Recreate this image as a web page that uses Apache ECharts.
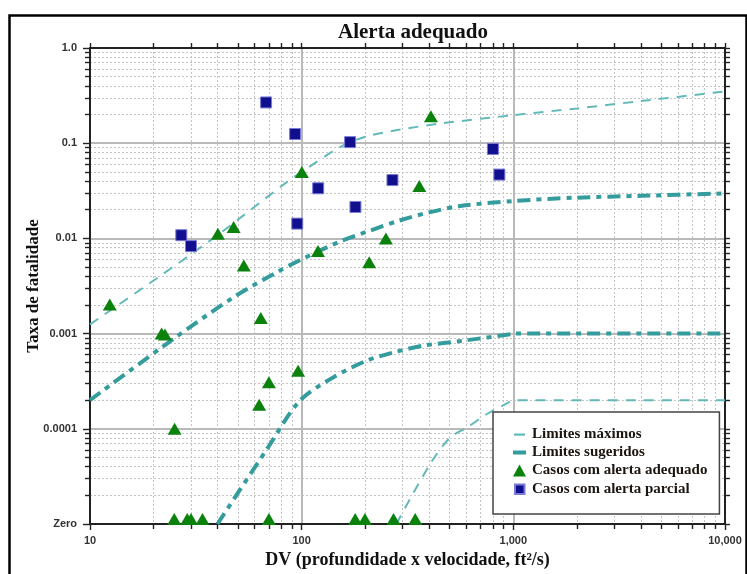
<!DOCTYPE html>
<html>
<head>
<meta charset="utf-8">
<script src="https://cdn.jsdelivr.net/npm/echarts@6/dist/echarts.min.js"></script>
<style>
html,body{margin:0;padding:0;background:#fff;}
#main{width:747px;height:574px;}
</style>
</head>
<body>
<div id="main"></div>
<script>
// "Zero" is drawn at the bottom of the log axis
var ZERO = 0.00001;

var xMajor = [10, 100, 1000, 10000];
var xMinor = [20, 30, 40, 50, 60, 70, 80, 90, 200, 300, 400, 500, 600, 700, 800, 900,
    2000, 3000, 4000, 5000, 6000, 7000, 8000, 9000];
var xTickLabels = ['10', '100', '1,000', '10,000'];
var yMajor = [0.00001, 0.0001, 0.001, 0.01, 0.1, 1];
var yMinor = [];
[0.00001, 0.0001, 0.001, 0.01, 0.1].forEach(function (d) {
    for (var k = 2; k <= 9; k++) yMinor.push(+(d * k).toPrecision(3));
});
var yTickLabels = ['Zero', '0.0001', '0.001', '0.01', '0.1', '1.0'];

// Limites máximos (curva superior e inferior)
var maxUpper = [[10, 0.00125], [21, 0.0039], [40, 0.0108], [85, 0.039], [100, 0.05], [152, 0.091], [200, 0.117],
    [292, 0.139], [452, 0.161], [1000, 0.197], [2000, 0.232], [4000, 0.277], [10000, 0.35]];
var maxLower = [[280, ZERO], [404, 0.0000425], [503, 0.000081], [604, 0.000103], [751, 0.000143], [950, 0.000189],
    [1000, 0.0002], [10000, 0.0002]];

// Limites sugeridos
var sugUpper = [[10, 0.0002], [24.8, 0.00088], [47.7, 0.00241], [76.4, 0.00442], [98, 0.0059], [152, 0.0093],
    [211, 0.0121], [292, 0.0155], [405, 0.0189], [562, 0.0219], [1000, 0.0247], [2000, 0.0268], [4000, 0.028], [10000, 0.0297]];
var sugLower = [[40, ZERO], [68.5, 0.000061], [98, 0.000197], [141, 0.000347], [203, 0.00052], [272, 0.000635],
    [377, 0.000748], [582, 0.000843], [985, 0.00099], [1000, 0.001], [10000, 0.001]];

// Casos com alerta adequado
var adequado = [[12.4, 0.00202], [21.8, 0.001], [22.6, 0.00098], [25.1, 0.0001], [40.2, 0.0112], [47.7, 0.0132],
    [53.3, 0.0052], [63.0, 0.000179], [64.1, 0.00146], [70.0, 0.000308], [96.2, 0.000408], [100.2, 0.0499],
    [119.4, 0.00736], [208.5, 0.0056], [250, 0.01], [359.6, 0.0355], [408, 0.192]];
var adequadoZeroX = [25.0, 28.8, 30.0, 34.0, 70.0, 179, 199, 271.7, 344];

// Casos com alerta parcial
var parcial = [[27.0, 0.0108], [30.0, 0.0083], [67.9, 0.268], [93.1, 0.125], [95.3, 0.0143], [119.7, 0.0336],
    [169.4, 0.1026], [179.5, 0.0214], [268.5, 0.041], [801, 0.087], [859, 0.0468]];

var thinColor = '#63b9b8';
var thickColor = '#349c9c';
var serif = '"Liberation Serif", "DejaVu Serif", serif';
var sans = '"Liberation Sans", Arial, sans-serif';

var adequadoData = adequado.map(function (p) { return p; });
adequadoZeroX.forEach(function (x) {
    adequadoData.push({value: [x, ZERO], symbolOffset: [0, -5]});
});

function xLabel(v) {
    var i = Math.round(Math.log10(v) - 1);
    return xTickLabels[i] !== undefined ? xTickLabels[i] : '';
}
function yLabel(v) {
    var i = Math.round(Math.log10(v) + 5);
    return yTickLabels[i] !== undefined ? yTickLabels[i] : '';
}

var chart = echarts.init(document.getElementById('main'));
var axisLine = {show: true, onZero: false, lineStyle: {color: '#222', width: 2}};
var tickStyle = {color: '#222', width: 1.4};
var minorGrid = {show: true, lineStyle: {color: '#c4c4c4', width: 1, type: [2, 2]}};

function logX(extra) {
    return Object.assign({type: 'log', logBase: 10, min: 10, max: 10000, offset: 0}, extra);
}
function logY(extra) {
    return Object.assign({type: 'log', logBase: 10, min: ZERO, max: 1, offset: 0}, extra);
}

var option = {
    animation: false,
    backgroundColor: '#fff',
    title: {
        text: 'Alerta adequado',
        left: 408, top: 17, textAlign: 'center',
        textStyle: {fontFamily: serif, fontSize: 21, fontWeight: 'bold', color: '#111'}
    },
    grid: {left: 90, right: 22, top: 48, bottom: 50, containLabel: false},
    xAxis: [
        // linhas menores (pontilhadas) e marcas menores
        logX({position: 'bottom', axisLine: {show: false},
            axisTick: {show: true, customValues: xMinor, length: 5, lineStyle: tickStyle},
            axisLabel: {show: false}, splitLine: minorGrid}),
        logX({position: 'bottom',
            name: 'DV (profundidade x velocidade, ft²/s)',
            nameLocation: 'middle', nameGap: 27, nameMoveOverlap: false,
            nameTextStyle: {fontFamily: serif, fontSize: 18, fontWeight: 'bold', color: '#111'},
            axisLine: axisLine,
            axisTick: {show: true, customValues: xMajor, length: 6, lineStyle: tickStyle},
            axisLabel: {margin: 11, customValues: xMajor, fontFamily: sans, fontSize: 11, fontWeight: 'bold', color: '#333',
                formatter: xLabel},
            splitLine: {show: true, lineStyle: {color: '#b9b9b9', width: 2}}
        }),
        logX({position: 'top', axisLine: axisLine,
            axisTick: {show: true, customValues: xMajor.concat(xMinor), length: 5, lineStyle: tickStyle},
            axisLabel: {show: false}, splitLine: {show: false}})
    ],
    yAxis: [
        logY({position: 'left', axisLine: {show: false},
            axisTick: {show: true, customValues: yMinor, length: 5, lineStyle: tickStyle},
            axisLabel: {show: false}, splitLine: minorGrid}),
        logY({position: 'left',
            name: 'Taxa de fatalidade',
            nameLocation: 'middle', nameGap: 48, nameMoveOverlap: false,
            nameTextStyle: {fontFamily: serif, fontSize: 17, fontWeight: 'bold', color: '#111'},
            axisLine: axisLine,
            axisTick: {show: true, customValues: yMajor, length: 7, lineStyle: tickStyle},
            axisLabel: {margin: 13, customValues: yMajor, fontFamily: sans, fontSize: 11, fontWeight: 'bold', color: '#333',
                formatter: yLabel},
            splitLine: {show: true, lineStyle: {color: '#b9b9b9', width: 2}}
        }),
        logY({position: 'right', axisLine: axisLine,
            axisTick: {show: true, customValues: yMajor.concat(yMinor), length: 5, lineStyle: tickStyle},
            axisLabel: {show: false}, splitLine: {show: false}})
    ],
    legend: {
        orient: 'vertical', left: 493, top: 412,
        padding: [15, 12, 17, 18], itemGap: 3, itemWidth: 15, itemHeight: 14, itemTextGap: 3,
        backgroundColor: '#fff', borderColor: '#444', borderWidth: 1.5,
        textStyle: {fontFamily: serif, fontSize: 15, fontWeight: 'bold', color: '#1c1510', lineHeight: 15},
        data: [
            {name: 'Limites máximos', icon: 'path://M0,0M15,14M2,6h11v2.2h-11z'},
            {name: 'Limites sugeridos', icon: 'path://M0,0M15,14M1,5h13v4h-13z'},
            {name: 'Casos com alerta adequado', icon: 'path://M0,0M15,14M1,13L7.5,1L14,13z'},
            {name: 'Casos com alerta parcial', icon: 'path://M0,0M15,14M3,2.5h9.5v9.5h-9.5z'}
        ]
    },
    series: [
        {name: 'Limites máximos', type: 'line', xAxisIndex: 1, yAxisIndex: 1, data: maxUpper, smooth: 0.3, symbol: 'none',
            color: thinColor, lineStyle: {width: 2, type: [10, 8], color: thinColor}, silent: true},
        {name: 'Limites máximos', type: 'line', xAxisIndex: 1, yAxisIndex: 1, data: maxLower, smooth: 0.3, symbol: 'none',
            color: thinColor, lineStyle: {width: 2, type: [10, 8], color: thinColor}, silent: true},
        {name: 'Limites sugeridos', type: 'line', xAxisIndex: 1, yAxisIndex: 1, data: sugUpper, smooth: 0.3, symbol: 'none',
            color: thickColor, lineStyle: {width: 4, type: [13, 6, 5, 6], color: thickColor}, silent: true},
        {name: 'Limites sugeridos', type: 'line', xAxisIndex: 1, yAxisIndex: 1, data: sugLower, smooth: 0.3, symbol: 'none',
            color: thickColor, lineStyle: {width: 4, type: [13, 6, 5, 6], color: thickColor}, silent: true},
        {name: 'Casos com alerta adequado', type: 'scatter', xAxisIndex: 1, yAxisIndex: 1, data: adequadoData,
            symbol: 'triangle', symbolSize: [14, 12], color: '#0a820c',
            itemStyle: {color: '#0a820c', opacity: 1}, z: 5},
        {name: 'Casos com alerta parcial', type: 'scatter', xAxisIndex: 1, yAxisIndex: 1, data: parcial,
            symbol: 'rect', symbolSize: 11, color: '#10108f',
            itemStyle: {color: '#10108f', opacity: 1, borderColor: '#7b7bd6', borderWidth: 1}, z: 5}
    ],
    graphic: [{
        type: 'rect', left: 7, top: 13, silent: true,
        shape: {width: 737, height: 570},
        style: {fill: 'none', stroke: '#000', lineWidth: 2.5}
    }]
};
chart.setOption(option);
</script>
</body>
</html>
